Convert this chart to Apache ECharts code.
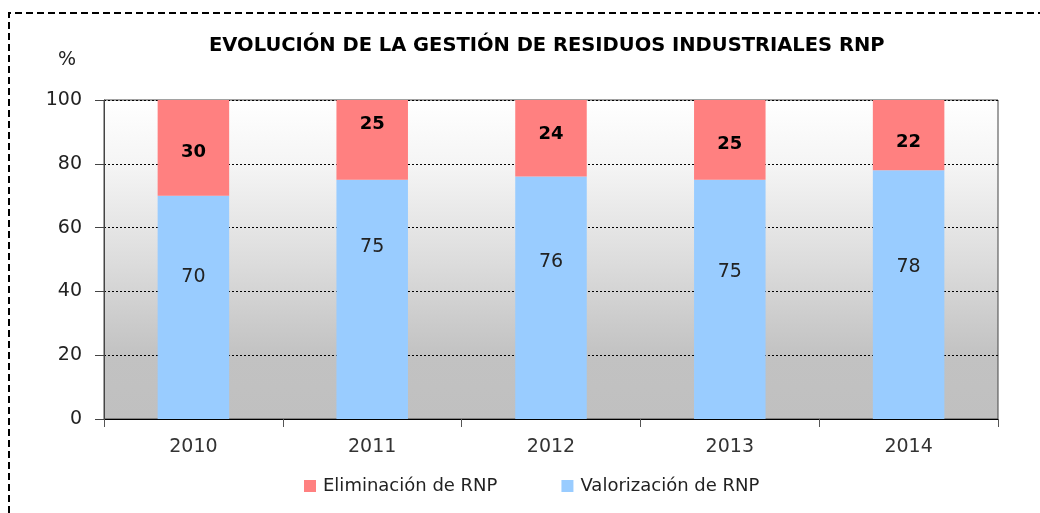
<!DOCTYPE html>
<html>
<head>
<meta charset="utf-8">
<script src="https://cdn.jsdelivr.net/npm/echarts@6/dist/echarts.min.js"></script>
<style>
  html, body { margin: 0; padding: 0; background: #fff; }
  #chart { width: 1040px; height: 513px; }
</style>
</head>
<body>
<div id="chart"></div>
<script>
var years = ['2010', '2011', '2012', '2013', '2014'];
var valorizacion = [70, 75, 76, 75, 78];
var eliminacion = [30, 25, 24, 25, 22];

var font = 'DejaVu Sans';

// the labels in the picture were nudged by hand, so shift them a little
var blueLabelShift = [30, 52, 36, 27, 28];
var redLabelShift = [-4, 16, 4, -4, -7];

var chart = echarts.init(document.getElementById('chart'));

var option = {
  backgroundColor: '#ffffff',
  animation: false,
  title: {
    text: 'EVOLUCIÓN DE LA GESTIÓN DE RESIDUOS INDUSTRIALES RNP',
    left: 204,
    top: 31,
    textStyle: { fontFamily: font, fontSize: 19.5, fontWeight: 'bold', color: '#000' }
  },
  legend: {
    top: 472,
    left: 299,
    itemGap: 64,
    itemWidth: 12,
    itemHeight: 12,
    icon: 'rect',
    textStyle: { fontFamily: font, fontSize: 18, color: '#222', padding: [0, 0, 0, 2] },
    data: ['Eliminación de RNP', 'Valorización de RNP']
  },
  grid: {
    left: 104,
    right: 42,
    top: 100,
    bottom: 94,
    show: true,
    borderColor: '#444',
    borderWidth: 1,
    backgroundColor: {
      type: 'linear', x: 0, y: 0, x2: 0, y2: 1,
      colorStops: [
        { offset: 0, color: '#ffffff' },
        { offset: 0.2, color: '#f5f5f5' },
        { offset: 0.5, color: '#dddddd' },
        { offset: 0.8, color: '#c2c2c2' },
        { offset: 1, color: '#c0c0c0' }
      ]
    }
  },
  xAxis: {
    type: 'category',
    data: years,
    axisLine: { lineStyle: { color: '#000' } },
    axisTick: { show: true, length: 8, lineStyle: { color: '#555' } },
    axisLabel: { fontFamily: font, fontSize: 19, color: '#333', margin: 19 }
  },
  yAxis: {
    type: 'value',
    name: '%',
    nameLocation: 'end',
    nameGap: 30,
    nameTextStyle: { fontFamily: font, fontSize: 19, color: '#222', align: 'right', padding: [0, 28, 0, 0] },
    min: 0,
    max: 100,
    interval: 20,
    axisLine: { show: true, lineStyle: { color: '#444' } },
    axisTick: { show: true, length: 9, lineStyle: { color: '#444' } },
    axisLabel: { fontFamily: font, fontSize: 19, color: '#222', margin: 22 },
    splitLine: { show: true, lineStyle: { color: '#000', type: [2, 2], width: 1 } }
  },
  series: [{
    name: 'Valorización de RNP',
    type: 'bar',
    stack: 'total',
    barWidth: '40%',
    itemStyle: { color: '#99ccff' },
    label: { show: true, position: 'inside', fontFamily: font, fontSize: 19, color: '#222' },
    data: valorizacion.map(function (v, i) {
      return { value: v, label: { offset: [0, -blueLabelShift[i]] } };
    })
  }, {
    name: 'Eliminación de RNP',
    type: 'bar',
    stack: 'total',
    itemStyle: { color: '#ff8080' },
    label: { show: true, position: 'inside', fontFamily: font, fontSize: 18, fontWeight: 'bold', color: '#000' },
    data: eliminacion.map(function (v, i) {
      return { value: v, label: { offset: [0, -redLabelShift[i]] } };
    })
  }],
  graphic: [{
    type: 'polyline',
    shape: { points: [[9, 513], [9, 13], [1040, 13]] },
    style: { stroke: '#000', lineWidth: 2, lineDash: [7, 4], fill: null }
  }]
};

chart.setOption(option);
</script>
</body>
</html>
